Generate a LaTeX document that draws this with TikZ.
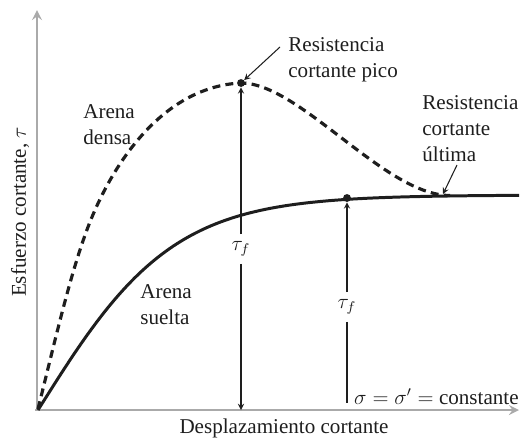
\documentclass[tikz,border=0pt]{standalone}
\usepackage{fontspec}
\setmainfont{Liberation Serif}
\usepackage{tikz}
\usetikzlibrary{arrows,positioning}
\usepackage{xcolor}
\definecolor{axgray}{RGB}{170,170,170}
\definecolor{inkgray}{RGB}{30,30,30}
\tikzstyle{axis} = [line width=1.5pt, color=axgray, ->, >=stealth]
\tikzstyle{densecurve} = [line width=1.8pt, dash pattern=on 4.5pt off 3pt, color=inkgray]
\tikzstyle{loosecurve} = [line width=1.7pt, color=inkgray]
\tikzstyle{arrow} = [line width=0.6pt, ->, >=stealth, color=inkgray]
\tikzstyle{lbl} = [font=\fontsize{12}{14.8}\selectfont, align=left, inner sep=0pt, text=inkgray]
\tikzstyle{tflbl} = [font=\fontsize{12}{14}\selectfont, inner sep=4pt, text=inkgray]
\tikzstyle{dot} = [circle, fill=inkgray, inner sep=0pt, minimum size=4.5pt]

\begin{document}
\begin{tikzpicture}[x=0.02cm, y=-0.02cm]
\useasboundingbox (0,0) rectangle (520,440);
% Axes
\coordinate (O) at (37,410);
\coordinate (ytop) at (37,10);
\coordinate (xend) at (519,410);
\draw[axis] (O) -- (ytop);
\draw[axis] ([xshift=-1pt]O) -- (xend);
\node[lbl, rotate=90] (ylab) at (20,212) {Esfuerzo cortante, $\tau$};
\node[lbl] (xlab) at (284,428) {Desplazamiento cortante};

% Curves
\draw[loosecurve] plot[domain=38:519, samples=90] (\x, {410-215*tanh((\x-38)/135)});
\draw[densecurve] (38,409) .. controls (60,320) and (75,255) .. (95,210)
  .. controls (125,142.5) and (175,86) .. (241,83)
  .. controls (300,83) and (385,195.5) .. (450,195.5);

% Points on the curves
\node[dot] (peak) at (241,83) {};
\node[dot] (ult) at (347,198) {};
\coordinate (meet) at (443,194);

% Labels
\node[lbl, anchor=north west] (dense) at (83,104) {Arena\\densa};
\node[lbl, anchor=north west] (loose) at (140,284) {Arena\\suelta};
\node[lbl, anchor=north west] (pico) at (288,37) {Resistencia\\cortante pico};
\node[lbl, anchor=north west] (ultima) at (422,95) {Resistencia\\cortante\\última};
\node[lbl, anchor=east] (sigma) at (519,397) {$\sigma = \sigma' =$ constante};

\coordinate (picotail) at (280,47);
\coordinate (ulttail) at (457,165);
\draw[arrow] (picotail) -- (peak);
\draw[arrow] (ulttail) -- (meet);

% Shear strength arrows
\node[tflbl] (tf1) at (241,249) {$\tau_f$};
\draw[arrow] (tf1) -- (peak);
\draw[arrow] (tf1) -- (tf1 |- O);
\node[tflbl] (tf2) at (347,307) {$\tau_f$};
\coordinate (base2) at (347,403);
\draw[arrow] (tf2) -- (ult);
\draw[line width=0.6pt, color=inkgray] (tf2) -- (base2);
\end{tikzpicture}
\end{document}
